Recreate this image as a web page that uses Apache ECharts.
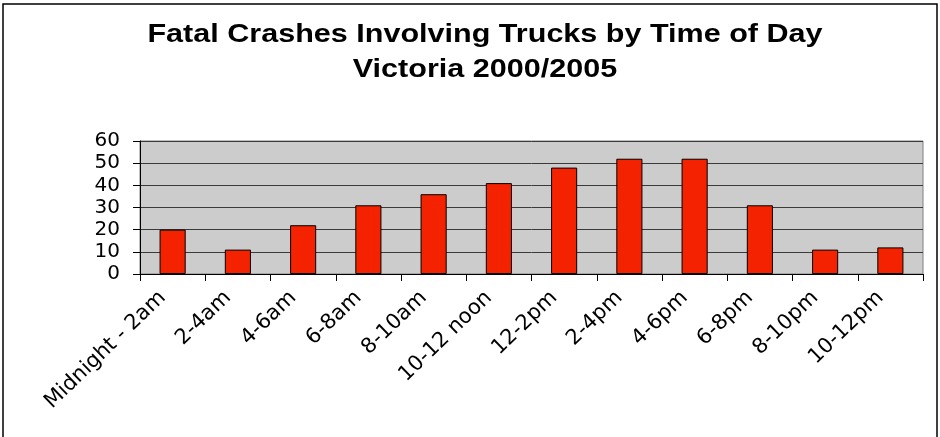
<!DOCTYPE html>
<html>
<head>
<meta charset="utf-8">
<script src="https://cdn.jsdelivr.net/npm/echarts@6/dist/echarts.min.js"></script>
<style>html,body{margin:0;padding:0;background:#fff}#chart{width:940px;height:437px}</style>
</head>
<body>
<div id="chart"></div>
<script>
const categories = ['Midnight - 2am','2-4am','4-6am','6-8am','8-10am','10-12 noon','12-2pm','2-4pm','4-6pm','6-8pm','8-10pm','10-12pm'];
const crashes = [20, 11, 22, 31, 36, 41, 48, 52, 52, 31, 11, 12];
const titleLines = ['Fatal Crashes Involving Trucks by Time of Day', 'Victoria 2000/2005'];
const yMin = 0, yMax = 60, yStep = 10;

const chart = echarts.init(document.getElementById('chart'), null, {renderer: 'canvas'});
chart.setOption({
  animation: false,
  backgroundColor: '#ffffff',
  graphic: [
    {type: 'rect', shape: {x: 3, y: 4, width: 934, height: 445}, style: {fill: 'none', stroke: '#000', lineWidth: 1.5}, z: 0},
    {type: 'text', x: 485, y: 17, scaleX: 1.175, style: {text: titleLines.join('\n'), fill: '#000', font: 'bold 26px "Liberation Sans", Arial, sans-serif', textAlign: 'center', lineHeight: 35}}
  ],
  grid: {left: 140, right: 17, top: 141, bottom: 163, show: true, backgroundColor: '#cccccc', borderColor: '#808080', borderWidth: 1},
  xAxis: {
    type: 'category', data: categories,
    axisLine: {lineStyle: {color: '#000', width: 1}},
    axisTick: {show: true, length: 7, lineStyle: {color: '#000'}},
    axisLabel: {rotate: 44, margin: 11, padding: [0, 14, 0, 0], color: '#000', fontSize: 21, fontFamily: '"DejaVu Sans", sans-serif', interval: 0}
  },
  yAxis: {
    type: 'value', min: yMin, max: yMax, interval: yStep,
    axisLine: {show: true, lineStyle: {color: '#000', width: 1}},
    axisTick: {show: true, length: 7, lineStyle: {color: '#000'}},
    axisLabel: {margin: 20, color: '#000', fontSize: 20, fontFamily: '"DejaVu Sans", sans-serif'},
    splitLine: {show: true, lineStyle: {color: '#3a3a3a', width: 1}}
  },
  series: [{
    type: 'bar', data: crashes, barWidth: '40%',
    itemStyle: {color: '#f52200', borderColor: '#000', borderWidth: 1}
  }]
});
</script>
</body>
</html>
